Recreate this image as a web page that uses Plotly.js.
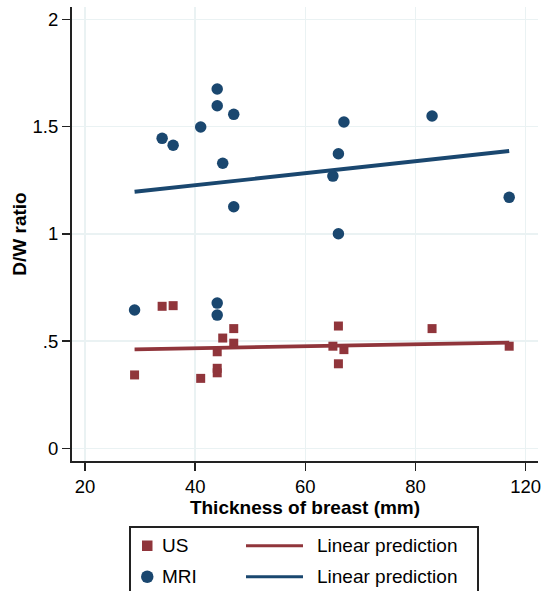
<!DOCTYPE html>
<html>
<head>
<meta charset="utf-8">
<script src="https://cdn.plot.ly/plotly-3.0.1.min.js"></script>
<style>
html,body{margin:0;padding:0;background:#fff;}
#chart{width:544px;height:591px;}
</style>
</head>
<body>
<div id="chart"></div>
<script>
// ---- data ----
const mriX = [34, 36, 41, 44, 44, 47, 45, 47, 67, 66, 65, 66, 83, 97, 29, 44, 44];
const mriY = [1.445, 1.413, 1.498, 1.675, 1.597, 1.557, 1.329, 1.126, 1.521, 1.373, 1.269, 1.000, 1.549, 1.170, 0.645, 0.677, 0.621];
const usX = [34, 36, 29, 41, 44, 44, 44, 45, 47, 47, 66, 65, 67, 66, 83, 97];
const usY = [0.662, 0.665, 0.342, 0.326, 0.450, 0.373, 0.352, 0.514, 0.558, 0.490, 0.570, 0.476, 0.460, 0.394, 0.558, 0.476];
const fitX = [29, 97];
const usFit = [0.4615, 0.493];
const mriFit = [1.196, 1.386];
const xTickVals = [20, 40, 60, 80, 100];
const xTickText = ['20', '40', '60', '80', '120'];
const yTickVals = [0, 0.5, 1, 1.5, 2];
const yTickText = ['0', '.5', '1', '1.5', '2'];
const legendLabels = ['US', 'MRI', 'Linear prediction', 'Linear prediction'];

// ---- styles ----
const RED = '#90353b';
const BLUE = '#1a476f';
const FONT = 'Liberation Sans, Arial, sans-serif';
const AXC = '#222222';
const GRID = '#eaf2f3';

const traces = [
  {x: usX, y: usY, mode: 'markers', type: 'scatter', name: legendLabels[0],
   marker: {symbol: 'square', size: 9, color: RED, line: {width: 0}}},
  {x: mriX, y: mriY, mode: 'markers', type: 'scatter', name: legendLabels[1],
   marker: {symbol: 'circle', size: 11.5, color: BLUE, line: {width: 0}}},
  {x: fitX, y: usFit, mode: 'lines', type: 'scatter', name: legendLabels[2],
   line: {color: RED, width: 3.8}},
  {x: fitX, y: mriFit, mode: 'lines', type: 'scatter', name: legendLabels[3],
   line: {color: BLUE, width: 3.8}}
];

// pixel helpers relative to the plot-area origin (bottom-left of plot)
const L = 72, B = 461;
function px(x) { return x - L; }
function py(y) { return B - y; }

const shapes = [
  // legend box
  {type: 'rect', xref: 'paper', yref: 'paper', xsizemode: 'pixel', ysizemode: 'pixel',
   xanchor: 0, yanchor: 0, x0: px(130), x1: px(478), y0: py(527), y1: py(600),
   line: {color: AXC, width: 2}, fillcolor: 'rgba(0,0,0,0)'},
  // US square
  {type: 'rect', xref: 'paper', yref: 'paper', xsizemode: 'pixel', ysizemode: 'pixel',
   xanchor: 0, yanchor: 0, x0: px(142), x1: px(152.5), y0: py(540.5), y1: py(551),
   line: {width: 0}, fillcolor: RED},
  // MRI circle
  {type: 'circle', xref: 'paper', yref: 'paper', xsizemode: 'pixel', ysizemode: 'pixel',
   xanchor: 0, yanchor: 0, x0: px(141), x1: px(153.5), y0: py(570.5), y1: py(583),
   line: {width: 0}, fillcolor: BLUE},
  // red line sample
  {type: 'line', xref: 'paper', yref: 'paper', xsizemode: 'pixel', ysizemode: 'pixel',
   xanchor: 0, yanchor: 0, x0: px(246), x1: px(303), y0: py(545.7), y1: py(545.7),
   line: {color: RED, width: 3}},
  // blue line sample
  {type: 'line', xref: 'paper', yref: 'paper', xsizemode: 'pixel', ysizemode: 'pixel',
   xanchor: 0, yanchor: 0, x0: px(246), x1: px(303), y0: py(576.7), y1: py(576.7),
   line: {color: BLUE, width: 3}}
];

function legText(text, left, cy) {
  return {text: text, xref: 'paper', yref: 'paper', x: 0, y: 0,
    xanchor: 'left', yanchor: 'middle', xshift: left - L - 2, yshift: B - cy,
    showarrow: false, font: {family: FONT, size: 19, color: '#000'}};
}

const annotations = [
  legText(legendLabels[0], 161.7, 545.7),
  legText(legendLabels[1], 161.7, 576.7),
  legText(legendLabels[2], 316.7, 545.7),
  legText(legendLabels[3], 316.7, 576.7)
];

const layout = {
  width: 544, height: 591,
  margin: {l: L, r: 6, t: 7, b: 591 - B, pad: 0},
  paper_bgcolor: '#ffffff', plot_bgcolor: '#ffffff',
  showlegend: false,
  font: {family: FONT, color: '#000'},
  xaxis: {
    range: [17.64, 102.23], tickmode: 'array', tickvals: xTickVals, ticktext: xTickText,
    showgrid: true, gridcolor: GRID, gridwidth: 1.5, zeroline: false,
    showline: true, linecolor: AXC, linewidth: 2,
    ticks: 'outside', ticklen: 8, tickwidth: 1.5, tickcolor: AXC,
    tickfont: {family: FONT, size: 18.5, color: '#000'},
    title: {text: '<b>Thickness of breast (mm)</b>', font: {family: FONT, size: 19, color: '#000'}, standoff: 0},
    automargin: false
  },
  yaxis: {
    range: [-0.0592, 2.0573], tickmode: 'array', tickvals: yTickVals, ticktext: yTickText,
    showgrid: true, gridcolor: GRID, gridwidth: 1.5, zeroline: false,
    showline: true, linecolor: AXC, linewidth: 2,
    ticks: 'outside', ticklen: 8, tickwidth: 1.5, tickcolor: AXC,
    tickfont: {family: FONT, size: 18.5, color: '#000'},
    title: {text: '<b>D/W ratio</b>', font: {family: FONT, size: 19, color: '#000'}, standoff: 1},
    automargin: false
  },
  shapes: shapes,
  annotations: annotations
};

Plotly.newPlot('chart', traces, layout, {displayModeBar: false, staticPlot: true});
</script>
</body>
</html>
